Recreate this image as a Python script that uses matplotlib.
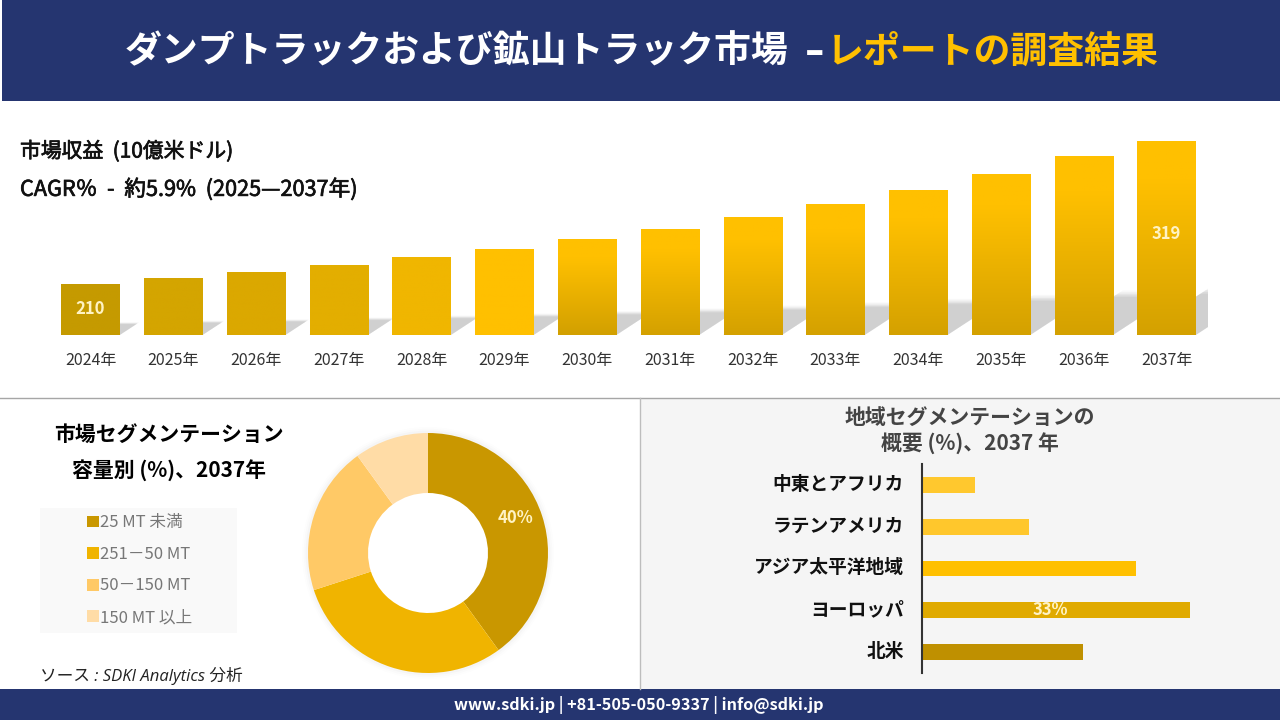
import numpy as np
import matplotlib
matplotlib.use('Agg')
import matplotlib.pyplot as plt
import matplotlib.patheffects as pe
from matplotlib.colors import LinearSegmentedColormap
from matplotlib.patches import Rectangle, Polygon
from matplotlib.transforms import ScaledTranslation

plt.rcParams['font.family'] = ['Noto Sans CJK JP', 'DejaVu Sans']

# データ
years = ['2024年', '2025年', '2026年', '2027年', '2028年', '2029年', '2030年',
         '2031年', '2032年', '2033年', '2034年', '2035年', '2036年', '2037年']
revenue = [210, 214.6, 219, 224.5, 230.6, 236.7, 244.3,
           252, 261, 271, 281.6, 293.8, 307.6, 319]
bar_top = ['#C59A00', '#D4A500', '#DBA800', '#E3AE00', '#F0B600', '#FFC000', '#FFC000',
           '#FFC000', '#FFC000', '#FFC000', '#FFC000', '#FFC000', '#FFC000', '#FFC000']
bar_bottom = ['#C59A00', '#D4A500', '#DBA800', '#E3AE00', '#F0B600', '#FFC000', '#D2A000',
              '#D4A100', '#D4A100', '#D4A100', '#D4A100', '#D4A100', '#D4A100', '#D4A100']

capacity_labels = ['25 MT 未満', '251－50 MT', '50－150 MT', '150 MT 以上']
capacity_share = [40, 30, 20, 10]
capacity_colors = ['#C99700', '#F0B400', '#FFC966', '#FFDCA6']

regions = ['中東とアフリカ', 'ラテンアメリカ', 'アジア太平洋地域', 'ヨーロッパ', '北米']
region_share = [6.5, 13.2, 26.4, 33, 19.8]
region_colors = ['#FFC82E', '#FFC72C', '#FFC000', '#E0AA00', '#BF9000']

NAVY = '#253570'
W, H = 1280, 720


def px_axes(fig, x0, y0, x1, y1):
    # ピクセル座標(上原点)でaxesを作る
    return fig.add_axes([x0 / W, 1 - y1 / H, (x1 - x0) / W, (y1 - y0) / H])


fig = plt.figure(figsize=(12.8, 7.2), dpi=100, facecolor='white')

# 背景と帯
page = fig.add_axes([0, 0, 1, 1], zorder=0)
page.set_xlim(0, W)
page.set_ylim(H, 0)
page.axis('off')
page.add_patch(Rectangle((2, 0), W - 2, 100.5, color=NAVY, lw=0))
page.add_patch(Rectangle((0, 689), W, 31, color=NAVY, lw=0))
page.add_patch(Rectangle((640, 399), W - 640, 290, color='#F5F5F5', lw=0))
page.plot([0, W], [398, 398], color='#A6A6A6', lw=1)
page.plot([640, 640], [398, 689], color='#BDBDBD', lw=1)
page.add_patch(Rectangle((40, 508), 197, 125, color='#F9F9F9', lw=0))

page.text(125, 52, 'ダンプトラックおよび鉱山トラック市場', color='white', fontsize=26.6,
          fontweight='bold', va='center', ha='left')
page.text(805, 52, '–', color='white', fontsize=28, family=['DejaVu Sans'],
          fontweight='bold', va='center', ha='left')
page.text(827, 52, 'レポートの調査結果', color='#FFC000', fontsize=26.6,
          fontweight='bold', va='center', ha='left')

thick = [pe.withStroke(linewidth=0.5, foreground='#111111')]
page.text(20, 151.5, '市場収益  (10億米ドル)', color='#111111', fontsize=15,
          va='center', path_effects=thick)
page.text(20, 189.5, 'CAGR％  -  約5.9%  (2025—2037年)', color='#111111', fontsize=15.6,
          va='center', path_effects=thick)
page.text(169, 434, '市場セグメンテーション', color='black', fontsize=15,
          fontweight='bold', va='center', ha='center')
page.text(169, 471, '容量別 (%)、2037年', color='black', fontsize=15,
          fontweight='bold', va='center', ha='center')
page.text(970, 417, '地域セグメンテーションの', color='#444444', fontsize=15,
          fontweight='bold', va='center', ha='center')
page.text(970, 444, '概要 (%)、2037 年', color='#444444', fontsize=15,
          fontweight='bold', va='center', ha='center')
page.text(40, 676, 'ソース : SDKI Analytics 分析', color='#222222', fontsize=12,
          style='italic', family=['Open Sans', 'Noto Sans CJK JP'], va='center')
page.text(639, 705, 'www.sdki.jp | +81-505-050-9337 | info@sdki.jp', color='white',
          fontsize=11.7, fontweight='bold', va='center', ha='center')

# 棒グラフ
ax = px_axes(fig, 40, 101, 1208, 335)
ax.patch.set_alpha(0)
x = np.arange(len(years))
step = 82.77
base = 171.0
k = 1.312  # px / 値
half = 0.352

for i, v in enumerate(revenue):
    # 影
    sh = 0.23 * (v - base)
    dx = sh * k * 1.53 / step
    for grow, a in [(1.08, 0.1), (1.04, 0.15), (1.0, 0.25), (0.96, 0.35), (0.92, 0.4)]:
        ax.add_patch(Polygon([(i - half, base), (i + half, base),
                              (i + half + dx * grow, base + sh * grow),
                              (i - half + dx * grow, base + sh * grow)],
                             closed=True, color='#C4C4C4', alpha=a, lw=0, zorder=1))

bars = ax.bar(x, revenue, width=half * 2, color='none', lw=0, zorder=3)
for i, b in enumerate(bars):
    cmap = LinearSegmentedColormap.from_list('g', [(0, bar_top[i]), (0.2, bar_top[i]), (1, bar_bottom[i])])
    im = ax.imshow(np.linspace(0, 1, 128).reshape(-1, 1), cmap=cmap, aspect='auto',
                   extent=(i - half, i + half, base, revenue[i]), zorder=3,
                   origin='upper', vmin=0, vmax=1)
    im.set_clip_path(b)
ax.set_xlim((40 - 90.5) / step, (1208 - 90.5) / step)
ax.set_ylim(base, base + 234 / k)
ax.set_xticks(x, years)
ax.tick_params(axis='x', length=0, pad=12.5, labelsize=11.5, labelcolor='#333333')
ax.set_yticks([])
for s in ax.spines.values():
    s.set_visible(False)
ax.text(0, (revenue[0] + base) / 2, '210', color='#FFF3C4', fontsize=12, fontweight='bold',
        ha='center', va='center', zorder=5)
ax.annotate('319', (13, (revenue[13] + base) / 2), xytext=(0, 2.5), textcoords='offset points',
            color='#FFF3C4', fontsize=12, fontweight='bold', ha='center', va='center', zorder=5)

# ドーナツ
ax2 = px_axes(fig, 298, 423, 558, 683)
ax2.patch.set_alpha(0)
for r, a in [(1.05, 0.015), (1.035, 0.025), (1.02, 0.035)]:
    ax2.pie([1], radius=r, colors=['#888888'], wedgeprops={'width': r - 0.95, 'alpha': a, 'lw': 0})
wedges, _ = ax2.pie(capacity_share, colors=capacity_colors, startangle=90, counterclock=False,
                    radius=1.0, wedgeprops={'width': 0.5, 'lw': 0})
ax2.set_xlim(-130 / 120, 130 / 120)
ax2.set_ylim(-130 / 120, 130 / 120)
ax2.text(87 / 120, 35 / 120, '40%', color='#FFF3C4', fontsize=12, fontweight='bold',
         ha='center', va='center')
leg = ax2.legend(wedges, capacity_labels, loc='upper left', frameon=False,
                 bbox_to_anchor=(79 / W, 1 - 506 / H), bbox_transform=fig.transFigure,
                 fontsize=12, labelcolor='#777777', handlelength=0.72, handleheight=0.72,
                 handletextpad=0.05, labelspacing=0.875, borderpad=0.5, borderaxespad=0)

# 地域別の横棒
ax3 = px_axes(fig, 922, 464, 1280, 673)
ax3.patch.set_alpha(0)
y = np.arange(len(regions))
ax3.barh(y, region_share, height=16 / 41.8, color=region_colors, lw=0)
ax3.set_xlim(0, 358 / 8.12)
ax3.set_ylim(4 + 21 / 41.8, -21 / 41.8)
ax3.set_yticks(y, regions)
ax3.set_xticks([])
ax3.tick_params(axis='y', length=0, pad=13, labelsize=13.5)
up = ScaledTranslation(0, 2 / 72, fig.dpi_scale_trans)
for lab in ax3.get_yticklabels():
    lab.set_fontweight('bold')
    lab.set_color('#111111')
    lab.set_transform(lab.get_transform() + up)
for name, s in ax3.spines.items():
    s.set_visible(name == 'left')
ax3.spines['left'].set_color('#333333')
ax3.spines['left'].set_linewidth(1.5)
ax3.text(region_share[3] * 0.48, 3, '33%', color='#FFF3C4', fontsize=12, fontweight='bold',
         ha='center', va='center')

fig.savefig('out.png', dpi=100)
